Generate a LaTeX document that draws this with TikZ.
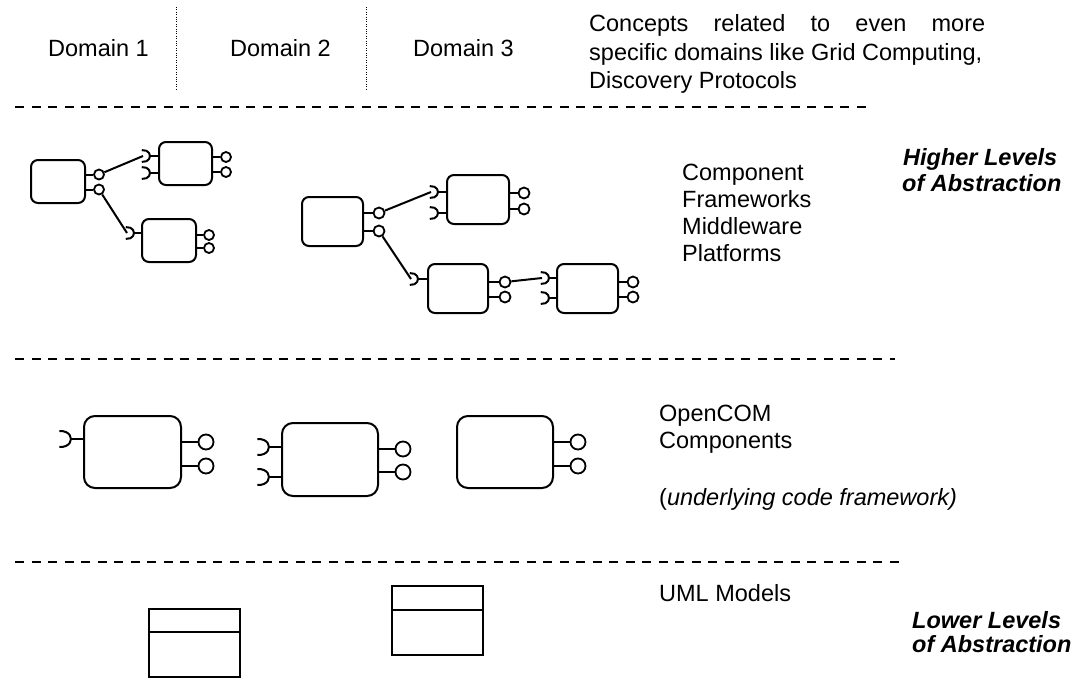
\documentclass[tikz,border=0pt]{standalone}
\usepackage{fontspec}
\setmainfont{Liberation Sans}
\newcommand\sockt[6]{% name, xbox, xr, y, rx, ry
  \draw[wire] (#2,#4) -- (#3,#4);
  \draw[wire] (#3,#4) arc[start angle=0,end angle=100,x radius=#5,y radius=#6];
  \draw[wire] (#3,#4) arc[start angle=0,end angle=-100,x radius=#5,y radius=#6];
  \coordinate (#1) at ([xshift=-#5pt]#3,#4);}
\newcommand\lolli[5]{% name, xbox, xc, y, size
  \node[lolc,minimum size=#5pt] (#1) at (#3,#4) {};
  \draw[wire] (#2,#4) -- (#1.west);}
\begin{document}
\begin{tikzpicture}[x=1pt,y=-1pt,
  txt/.style={inner sep=0pt,anchor=base west,font=\fontsize{23.5}{27}\selectfont},
  bi/.style={inner sep=0pt,anchor=base west,font=\fontsize{23.5}{27}\selectfont\bfseries\itshape},
  wire/.style={line width=2pt},
  sbox/.style={draw,line width=2pt,rounded corners=7pt,inner sep=0pt},
  bbox/.style={draw,line width=2pt,rounded corners=11pt,inner sep=0pt},
  lolc/.style={draw,circle,line width=1.8pt,inner sep=0pt},
  divider/.style={line width=1.6pt,dash pattern=on 9pt off 7.5pt},
  dotv/.style={line width=1pt,dash pattern=on 1pt off 1.4pt},
  uml/.style={draw,line width=2pt,inner sep=0pt}]
\fill[white] (0,0) rectangle (1080,678);
\useasboundingbox (0,0) rectangle (1080,678);

% top row
\node[txt] (d1) at (48,56.5) {Domain 1};
\node[txt] (d2) at (230,56.5) {Domain 2};
\node[txt] (d3) at (413,56.5) {Domain 3};
\draw[dotv] (176,7) -- (176,90);
\draw[dotv] (366,7) -- (366,90);
\node[txt] (c1) at (589,31.5) {\makebox[396pt][s]{Concepts related to even more}};
\node[txt] (c2) at (589,60) {specific domains like Grid Computing,};
\node[txt] (c3) at (589,88.5) {Discovery Protocols};
\draw[divider] (15,107) -- (870,107);

% labels
\node[bi] (h1) at (903,165.5) {Higher Levels};
\node[bi] (h2) at (902,191.5) {of Abstraction};
\node[txt] (f1) at (682,180.5) {Component};
\node[txt] (f2) at (682,207.5) {Frameworks};
\node[txt] (f3) at (682,234.5) {Middleware};
\node[txt] (f4) at (682,261.5) {Platforms};
\draw[divider] (15,359) -- (895,359);
\node[txt] (o1) at (659,421.5) {OpenCOM};
\node[txt] (o2) at (659,448.5) {Components};
\node[txt] (o3) at (659,505.5) {({\itshape underlying code framework)}};
\draw[divider] (15,562) -- (905,562);
\node[txt] (u0) at (659,601.5) {UML Models};
\node[bi] (l1) at (912,628.5) {Lower Levels};
\node[bi] (l2) at (912,652.5) {of Abstraction};

% component frameworks, left cluster
\node[sbox,minimum width=54pt,minimum height=43pt] (A) at (58,181.5) {};
\lolli{lA1}{85}{99}{174.5}{10}
\lolli{lA2}{85}{99}{189.5}{10}
\node[sbox,minimum width=53pt,minimum height=43pt] (B) at (185.5,163.5) {};
\sockt{sB1}{159}{150}{156}{7}{6}
\sockt{sB2}{159}{150}{173}{7}{6}
\lolli{lB1}{212}{226}{157}{10}
\lolli{lB2}{212}{226}{172}{10}
\node[sbox,minimum width=54pt,minimum height=43pt] (C) at (169,240.5) {};
\sockt{sC1}{142}{134}{233}{7}{6}
\lolli{lC1}{196}{209}{235}{10}
\lolli{lC2}{196}{209}{248}{10}
\draw[wire] (lA1) -- (sB1);
\draw[wire] (lA2) -- (sC1);

% component frameworks, right cluster
\node[sbox,minimum width=61pt,minimum height=49pt] (D) at (332.5,221.5) {};
\lolli{lD1}{363}{379}{213}{11}
\lolli{lD2}{363}{379}{231}{11}
\node[sbox,minimum width=62pt,minimum height=49pt] (E) at (478,199.5) {};
\sockt{sE1}{447}{438}{192}{7}{6}
\sockt{sE2}{447}{438}{213}{7}{6}
\lolli{lE1}{509}{524}{193}{11}
\lolli{lE2}{509}{524}{209}{11}
\node[sbox,minimum width=60pt,minimum height=49pt] (F) at (458,288.5) {};
\sockt{sF1}{428}{418}{279}{7}{6}
\lolli{lF1}{488}{505}{282}{11}
\lolli{lF2}{488}{505}{297}{11}
\node[sbox,minimum width=61pt,minimum height=49pt] (G) at (587.5,288.5) {};
\sockt{sG1}{557}{549}{278}{7}{6}
\sockt{sG2}{557}{549}{298}{7}{6}
\lolli{lG1}{618}{633}{282}{11}
\lolli{lG2}{618}{633}{297}{11}
\draw[wire] (lD1) -- (sE1);
\draw[wire] (lD2) -- (sF1);
\draw[wire] (lF1) -- (sG1);

% OpenCOM components
\node[bbox,minimum width=97pt,minimum height=72pt] (H) at (132.5,452) {};
\sockt{sH1}{84}{71}{439}{10}{8}
\lolli{lH1}{181}{206}{442}{15}
\lolli{lH2}{181}{206}{466}{15}
\node[bbox,minimum width=96pt,minimum height=73pt] (I) at (330,459.5) {};
\sockt{sI1}{282}{269}{447}{10}{8}
\sockt{sI2}{282}{269}{477}{10}{8}
\lolli{lI1}{378}{403}{449}{15}
\lolli{lI2}{378}{403}{472}{15}
\node[bbox,minimum width=96pt,minimum height=72pt] (J) at (505,452) {};
\lolli{lJ1}{553}{578}{442}{15}
\lolli{lJ2}{553}{578}{466}{15}

% UML models
\node[uml,minimum width=91pt,minimum height=68pt] (U1) at (194.5,643) {};
\draw[line width=2pt] (U1.west |- 0,632) -- (U1.east |- 0,632);
\node[uml,minimum width=91pt,minimum height=69pt] (U2) at (437.5,620.5) {};
\draw[line width=2pt] (U2.west |- 0,610) -- (U2.east |- 0,610);
\end{tikzpicture}
\end{document}
